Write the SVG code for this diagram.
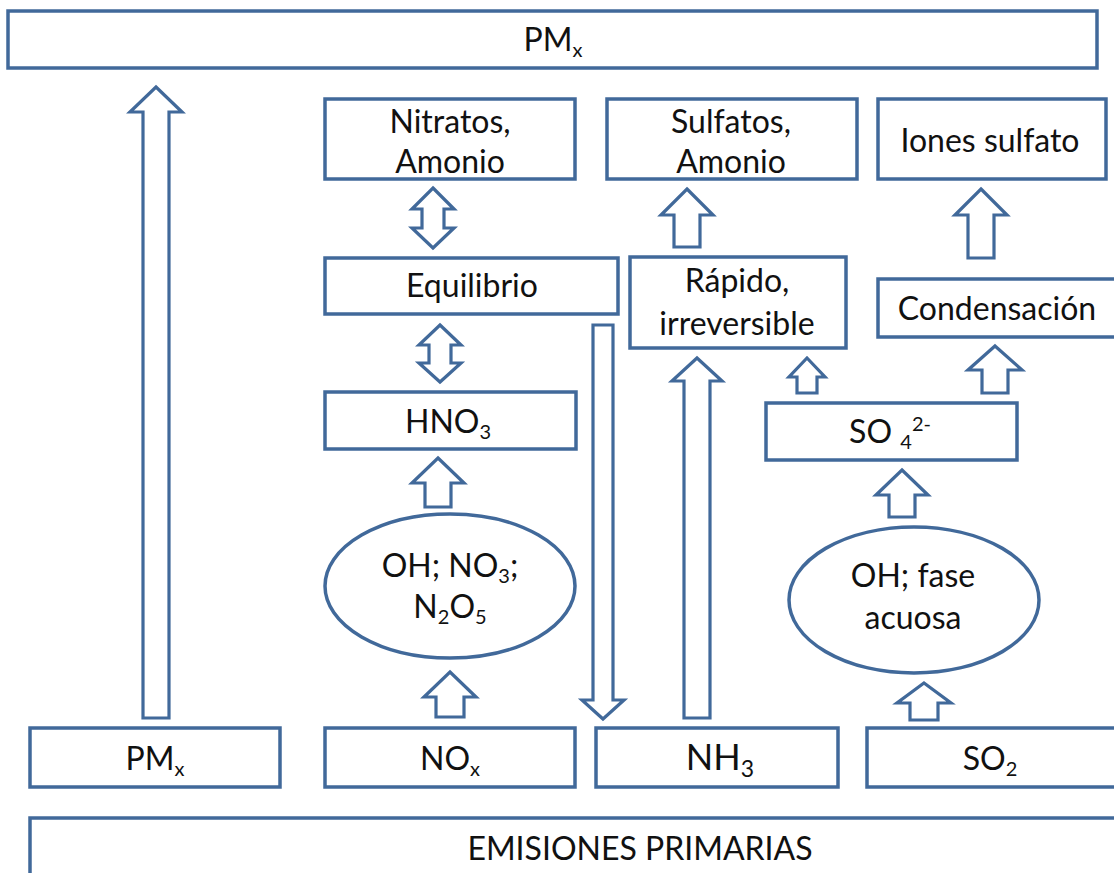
<svg xmlns="http://www.w3.org/2000/svg" width="1114" height="873" viewBox="0 0 1114 873">
<style>
.b{fill:#fff;stroke:#41699a;stroke-width:3.5}
.a{fill:#fff;stroke:#41699a;stroke-width:3.2;stroke-linejoin:miter}
text{font-family:Lato,"Liberation Sans",sans-serif;font-size:32px;fill:#111;text-anchor:middle}
.s{font-size:20px}
</style>
<rect width="1114" height="873" fill="#fff"/>
<g id="connectors">
<polygon class="a" points="156,87 182,112 169,112 169,718 143,718 143,112 130,112"/>
<polygon class="a" points="687,189 713,215 700,215 700,247 674,247 674,215 661,215"/>
<polygon class="a" points="981,189 1007,215 994,215 994,258 968,258 968,215 955,215"/>
<polygon class="a" points="438,458 464,483 451,483 451,507 425,507 425,483 412,483"/>
<polygon class="a" points="450,672 476,697 464,697 464,717 436,717 436,697 424,697"/>
<polygon class="a" points="697,358 722,381 710,381 710,718 684,718 684,381 672,381"/>
<polygon class="a" points="807,358 825,377 817,377 817,393 797,393 797,377 789,377"/>
<polygon class="a" points="995,346 1022,370 1008,370 1008,393 982,393 982,370 968,370"/>
<polygon class="a" points="902,470 928,495 915,495 915,517 889,517 889,495 876,495"/>
<polygon class="a" points="924,683 951,703 938,703 938,720 910,720 910,703 897,703"/>
<polygon class="a" points="603,719 624,700 613,700 613,325 593,325 593,700 582,700"/>
<polygon class="a" points="433,188 454,209 444,209 444,228 454,228 433,248 412,228 422,228 422,209 412,209"/>
<polygon class="a" points="440,325 461,345 451,345 451,363 461,363 440,382 419,363 429,363 429,345 419,345"/>
</g>
<g id="pmx-top"><rect class="b" x="8" y="11" width="1089" height="57"/><text x="553" y="51">PM<tspan class="s" dy="6">x</tspan></text></g>
<g id="nitratos"><rect class="b" x="325" y="99" width="250" height="80"/><text x="450" y="133">Nitratos,</text><text x="450" y="173">Amonio</text></g>
<g id="sulfatos"><rect class="b" x="607" y="99" width="250" height="80"/><text x="731" y="133">Sulfatos,</text><text x="731" y="173">Amonio</text></g>
<g id="iones"><rect class="b" x="878" y="99" width="228" height="80"/><text x="990" y="152">Iones sulfato</text></g>
<g id="equilibrio"><rect class="b" x="325" y="258" width="293" height="56"/><text x="472" y="297">Equilibrio</text></g>
<g id="rapido"><rect class="b" x="630" y="257" width="216" height="91"/><text x="737" y="292">Rápido,</text><text x="737" y="335">irreversible</text></g>
<g id="condensacion"><rect class="b" x="878" y="279" width="240" height="58"/><text x="997" y="320">Condensación</text></g>
<g id="hno3"><rect class="b" x="325" y="392" width="251" height="57"/><text x="448" y="433">HNO<tspan class="s" dy="6">3</tspan></text></g>
<g id="so4"><rect class="b" x="766" y="403" width="251" height="57"/><text x="890" y="443">SO <tspan class="s" dy="6">4</tspan><tspan class="s" dy="-18">2-</tspan></text></g>
<g id="ell-n"><ellipse class="b" cx="450" cy="586" rx="125" ry="72"/><text x="450" y="577">OH; NO<tspan class="s" dy="6">3</tspan><tspan dy="-6">;</tspan></text><text x="450" y="618">N<tspan class="s" dy="6">2</tspan><tspan dy="-6">O</tspan><tspan class="s" dy="6">5</tspan></text></g>
<g id="ell-s"><ellipse class="b" cx="914" cy="600" rx="125" ry="73"/><text x="913" y="587">OH; fase</text><text x="913" y="629">acuosa</text></g>
<g id="pmx-b"><rect class="b" x="30" y="728" width="250" height="59"/><text x="155" y="770">PM<tspan class="s" dy="6">x</tspan></text></g>
<g id="nox"><rect class="b" x="325" y="728" width="250" height="59"/><text x="450" y="770">NO<tspan class="s" dy="6">x</tspan></text></g>
<g id="nh3"><rect class="b" x="596" y="728" width="242" height="59"/><text x="720" y="770" style="font-size:36px">NH<tspan style="font-size:23px" dy="7">3</tspan></text></g>
<g id="so2"><rect class="b" x="867" y="728" width="250" height="59"/><text x="990" y="770">SO<tspan class="s" dy="6">2</tspan></text></g>
<g id="emisiones"><rect class="b" x="30" y="818" width="1090" height="70"/><text x="640" y="860">EMISIONES PRIMARIAS</text></g>
</svg>
